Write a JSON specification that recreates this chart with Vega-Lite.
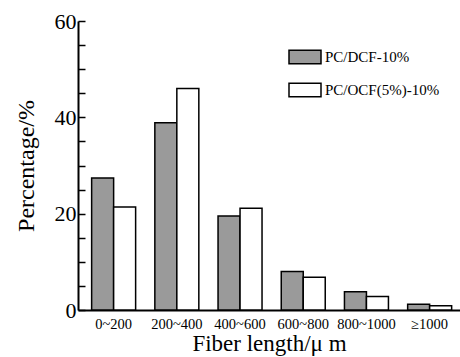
{
  "$schema": "https://vega.github.io/schema/vega-lite/v6.json",
  "autosize": {"type": "none"},
  "padding": {"left": 78, "top": 21, "right": 0, "bottom": 47},
  "width": 382,
  "height": 289,
  "background": "white",
  "config": {"view": {"stroke": null}, "font": "Liberation Serif"},
  "data": {"values": [
    {"length": "0~200", "sample": "PC/DCF-10%", "pct": 27.4},
    {"length": "0~200", "sample": "PC/OCF(5%)-10%", "pct": 21.4},
    {"length": "200~400", "sample": "PC/DCF-10%", "pct": 38.9},
    {"length": "200~400", "sample": "PC/OCF(5%)-10%", "pct": 46.0},
    {"length": "400~600", "sample": "PC/DCF-10%", "pct": 19.5},
    {"length": "400~600", "sample": "PC/OCF(5%)-10%", "pct": 21.1},
    {"length": "600~800", "sample": "PC/DCF-10%", "pct": 8.0},
    {"length": "600~800", "sample": "PC/OCF(5%)-10%", "pct": 6.8},
    {"length": "800~1000", "sample": "PC/DCF-10%", "pct": 3.8},
    {"length": "800~1000", "sample": "PC/OCF(5%)-10%", "pct": 2.8},
    {"length": "≥1000", "sample": "PC/DCF-10%", "pct": 1.2},
    {"length": "≥1000", "sample": "PC/OCF(5%)-10%", "pct": 0.9}
  ]},
  "mark": {"type": "bar", "stroke": "black", "strokeWidth": 1.5},
  "encoding": {
    "x": {
      "field": "length", "type": "nominal",
      "sort": ["0~200", "200~400", "400~600", "600~800", "800~1000", "≥1000"],
      "scale": {"paddingInner": 0.304, "paddingOuter": 0.174, "align": 0.62},
      "axis": {
        "labelAngle": 0, "labelFontSize": 14.5, "labelColor": "black", "labelPadding": 7,
        "ticks": false, "domainColor": "black", "domainWidth": 2,
        "title": "Fiber length/μ m", "titleFontSize": 23, "titleFontWeight": "normal",
        "titleColor": "black", "titlePadding": 2
      }
    },
    "xOffset": {"field": "sample", "sort": ["PC/DCF-10%", "PC/OCF(5%)-10%"]},
    "y": {
      "field": "pct", "type": "quantitative",
      "scale": {"domain": [0, 60], "nice": false},
      "axis": {
        "values": [0, 5, 10, 15, 20, 25, 30, 35, 40, 45, 50, 55, 60],
        "labelExpr": "datum.value % 20 === 0 ? datum.label : ''",
        "grid": false, "tickSize": -7, "tickWidth": 1.5, "tickColor": "black",
        "domainColor": "black", "domainWidth": 2,
        "labelFontSize": 22, "labelColor": "black", "labelPadding": 9,
        "title": "Percentage/%", "titleFontSize": 24, "titleFontWeight": "normal",
        "titleColor": "black", "titlePadding": 16
      }
    },
    "fill": {
      "field": "sample", "type": "nominal",
      "scale": {"domain": ["PC/DCF-10%", "PC/OCF(5%)-10%"], "range": ["#9a9a9a", "white"]},
      "legend": {
        "title": null, "orient": "none", "legendX": 210, "legendY": 19,
        "padding": 0, "symbolType": "M-1,-0.42H1V0.42H-1Z", "symbolSize": 1024,
        "symbolStrokeColor": "black", "symbolStrokeWidth": 1.5,
        "labelFontSize": 15, "labelColor": "black", "labelOffset": 3,
        "rowPadding": 6
      }
    }
  }
}
